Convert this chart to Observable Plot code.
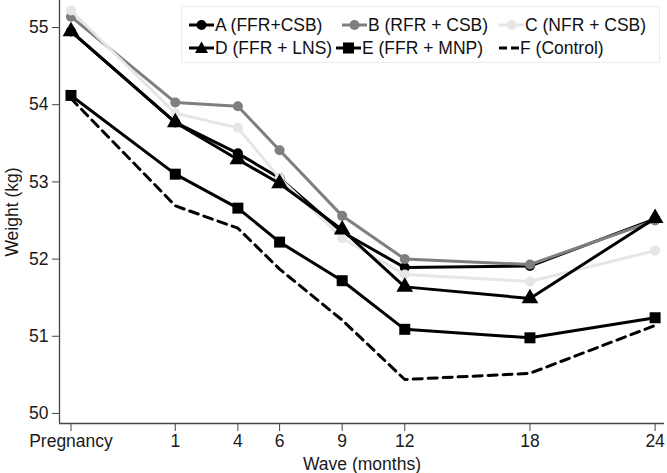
<!DOCTYPE html>
<html><head><meta charset="utf-8">
<script src="https://cdn.jsdelivr.net/npm/d3@7"></script>
<script src="https://cdn.jsdelivr.net/npm/@observablehq/plot@0.6"></script>
<style>
body{margin:0;background:#fff;font-family:"Liberation Sans",Arial,sans-serif}
#wrap{position:relative;width:667px;height:473px}
.legend{position:absolute;left:181px;top:6px;width:479px;height:57px;border:1px solid #ececec;box-sizing:border-box;background:#fff}
.item{position:absolute;display:flex;align-items:center;font-size:17.5px;color:#111;white-space:nowrap;height:20px}
.item svg{display:block}
</style></head><body><div id="wrap"></div>
<script>
const waveLabels = ["Pregnancy","1","4","6","9","12","18","24"];
const waveMonths = [-4,1,4,6,9,12,18,24];
const yTicks = [50,51,52,53,54,55];
const groups = ["A (FFR+CSB)","B (RFR + CSB)","C (NFR + CSB)","D (FFR + LNS)","E (FFR + MNP)","F (Control)"];
const seriesA = [54.95,53.77,53.37,53.05,52.35,51.89,51.91,52.52];
const seriesB = [55.14,54.03,53.98,53.41,52.56,52.00,51.93,52.50];
const seriesC = [55.22,53.89,53.70,53.05,52.27,51.80,51.71,52.11];
const seriesD = [54.95,53.77,53.29,52.98,52.38,51.64,51.49,52.53];
const seriesE = [54.12,53.10,52.66,52.22,51.72,51.09,50.98,51.24];
const seriesF = [54.08,52.69,52.40,51.87,51.21,50.44,50.52,51.14];

const allSeries = [seriesA,seriesB,seriesC,seriesD,seriesE,seriesF];
const colors = ["#000000","#7f7f7f","#e6e6e6","#000000","#000000","#000000"];
const symbols = ["circle","circle","circle","triangle","square","none"];
const dashes = [null,null,null,null,null,"9,6"];
const radii = {circle:5,triangle:6.2,square:6.2};

const rows = [];
allSeries.forEach((s,gi)=>s.forEach((v,i)=>rows.push({group:groups[gi],gi,month:waveMonths[i],label:waveLabels[i],value:v})));

const fmt = d => waveLabels[waveMonths.indexOf(d)];
const FS = 17.5;
const marks = [
  Plot.ruleY([49.87],{stroke:"#444",strokeWidth:1.3}),
  Plot.ruleX([-4.55],{stroke:"#444",strokeWidth:1.3}),
  Plot.axisX({ticks:waveMonths,tickFormat:fmt,tickSize:8,tickPadding:3,stroke:"#444",fontSize:FS,label:"Wave (months)",labelAnchor:"center",labelArrow:"none",labelOffset:46}),
  Plot.axisY({ticks:yTicks,tickFormat:d3.format("d"),tickSize:7,tickPadding:4,stroke:"#444",fontSize:FS,label:"Weight (kg)",labelAnchor:"center",labelArrow:"none",labelOffset:54})
];
groups.forEach((g,gi)=>{
  const d = rows.filter(r=>r.gi===gi);
  marks.push(Plot.line(d,{x:"month",y:"value",stroke:colors[gi],strokeWidth:3,strokeDasharray:dashes[gi]||undefined,strokeLinejoin:"round"}));
  if(symbols[gi]!=="none") marks.push(Plot.dot(d,{x:"month",y:"value",symbol:()=>symbols[gi],fill:colors[gi],stroke:"none",r:radii[symbols[gi]]}));
});

const chart = Plot.plot({
  width:667,height:473,
  marginLeft:59,marginRight:3,marginTop:0,marginBottom:50,
  style:{fontFamily:'"Liberation Sans",Arial,sans-serif',fontSize:FS+"px",color:"#1a1a1a",background:"#fff"},
  x:{type:"linear",domain:[-4.55,24.45]},
  y:{domain:[49.87,55.35]},
  symbol:{type:"identity"},
  marks
});
const wrap = document.getElementById("wrap");
wrap.appendChild(chart);

// legend
const leg = document.createElement("div");
leg.className="legend";
wrap.appendChild(leg);
const pos = [[7,8],[160,8],[317,8],[7,31],[154,31],[317,31]];
groups.forEach((g,gi)=>{
  const it=document.createElement("div");
  it.className="item";
  it.style.left=pos[gi][0]+"px"; it.style.top=pos[gi][1]+"px";
  const sym=symbols[gi], c=colors[gi];
  let m="";
  if(sym==="circle") m=`<circle cx="12.5" cy="10" r="5" fill="${c}"/>`;
  if(sym==="square") m=`<rect x="7" y="4.5" width="11" height="11" fill="${c}"/>`;
  if(sym==="triangle") m=`<path d="M12.5,3.5 L19,15 L6,15 Z" fill="${c}"/>`;
  const w = sym==="none"?20:25;
  it.innerHTML=`<svg width="${w}" height="20"><line x1="0" x2="${w}" y1="10" y2="10" stroke="${c}" stroke-width="3" ${dashes[gi]?'stroke-dasharray="8,4"':''}/>${m}</svg><span style="margin-left:1px">${g}</span>`;
  leg.appendChild(it);
});
</script></body></html>
